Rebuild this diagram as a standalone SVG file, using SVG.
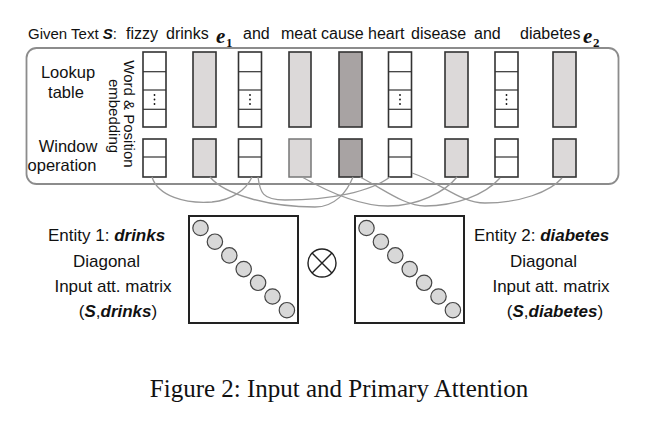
<svg xmlns="http://www.w3.org/2000/svg" width="666" height="433" viewBox="0 0 666 433">
<style>
text{font-family:"Liberation Sans",Arial,sans-serif;fill:#111}
.t15{font-size:15px}
.t155{font-size:16px}
.t16{font-size:16.5px}
.t17{font-size:17px}
.bi{font-weight:bold;font-style:italic}
.ev{font-family:"Liberation Serif","Times New Roman",serif;font-style:italic;font-weight:bold;font-size:21px}
.sub{font-family:"Liberation Serif","Times New Roman",serif;font-weight:bold;font-size:13px}
.frame{fill:none;stroke:#8c8c8c;stroke-width:1.8}
.b{stroke:#333;stroke-width:1.6}
.wh{fill:#fff}
.lg{fill:#dcd9d9}
.dg{fill:#a8a3a3}
.dv{stroke:#333;stroke-width:1.2}
.dot{fill:#111}
.con path{fill:none;stroke:#999;stroke-width:1.3}
.mx{fill:#fff;stroke:#222;stroke-width:2}
.cir{fill:#d8d8d8;stroke:#444;stroke-width:1.2}
.cap{font-family:"Liberation Serif","Times New Roman",serif;font-size:25px}
</style>
<defs>
<g id="split4">
<rect class="b wh" x="0" y="0" width="23" height="75"/>
<line class="dv" x1="0" y1="19.7" x2="23" y2="19.7"/>
<line class="dv" x1="0" y1="38" x2="23" y2="38"/>
<line class="dv" x1="0" y1="57.3" x2="23" y2="57.3"/>
<circle class="dot" cx="11.5" cy="43" r="0.9"/>
<circle class="dot" cx="11.5" cy="47.5" r="0.9"/>
<circle class="dot" cx="11.5" cy="52" r="0.9"/>
</g>
<g id="win2">
<rect class="b wh" x="0" y="0" width="23" height="38"/>
<line class="dv" x1="0" y1="18" x2="23" y2="18"/>
</g>
<g id="diag">
<circle class="cir" cx="11.5" cy="12" r="7.7"/>
<circle class="cir" cx="25.9" cy="25.7" r="7.7"/>
<circle class="cir" cx="40.3" cy="39.4" r="7.7"/>
<circle class="cir" cx="54.7" cy="53.1" r="7.7"/>
<circle class="cir" cx="69.1" cy="66.8" r="7.7"/>
<circle class="cir" cx="83.5" cy="80.5" r="7.7"/>
<circle class="cir" cx="97.9" cy="94.2" r="7.7"/>
</g>
</defs>

<g id="given-text">
<text class="t15" y="39"><tspan x="28">Given Text </tspan><tspan class="bi">S</tspan><tspan>:</tspan></text>
<text class="t155" y="39"><tspan x="126">fizzy</tspan><tspan x="166">drinks</tspan>
<tspan x="243">and</tspan><tspan x="281">meat</tspan><tspan x="321">cause</tspan><tspan x="368">heart</tspan>
<tspan x="411">disease</tspan><tspan x="474">and</tspan><tspan x="520">diabetes</tspan></text>
<text x="216" y="43" class="ev">e</text><text x="226" y="47" class="sub">1</text>
<text x="583" y="43" class="ev">e</text><text x="593" y="47" class="sub">2</text>
</g>

<g id="frame">
<rect class="frame" x="26.5" y="48" width="592" height="136" rx="10"/>
<text class="t16" text-anchor="middle"><tspan x="68" y="78">Lookup</tspan><tspan x="66" y="98">table</tspan></text>
<text class="t16" text-anchor="middle"><tspan x="68" y="152">Window</tspan><tspan x="62" y="171">operation</tspan></text>
<text class="t15" text-anchor="middle" transform="translate(124,114) rotate(90)">Word &amp; Position</text>
<text class="t15" text-anchor="middle" transform="translate(109,116) rotate(90)">embedding</text>
</g>

<g id="lookup">
<use href="#split4" x="143" y="52"/>
<rect class="b lg" x="193" y="52" width="23" height="75"/>
<use href="#split4" x="238.5" y="52"/>
<rect class="b lg" x="289" y="52" width="22" height="75"/>
<rect class="b dg" x="339" y="52" width="23" height="75"/>
<use href="#split4" x="388.5" y="52"/>
<rect class="b lg" x="445" y="52" width="23" height="75"/>
<use href="#split4" x="495" y="52"/>
<rect class="b lg" x="553" y="52" width="23" height="75"/>
</g>

<g id="window">
<use href="#win2" x="143" y="139"/>
<rect class="b lg" x="193" y="139" width="23" height="38"/>
<use href="#win2" x="238.5" y="139"/>
<rect class="lg" x="289" y="139" width="22" height="38" stroke="#777" stroke-width="1.5"/>
<rect class="b dg" x="339" y="139" width="23" height="38"/>
<use href="#win2" x="388.5" y="139"/>
<rect class="b lg" x="445" y="139" width="23" height="38"/>
<use href="#win2" x="495" y="139"/>
<rect class="b lg" x="553" y="139" width="23" height="38"/>
</g>

<g id="connectors" class="con">
<path d="M152,177 C158,196 185,204 212,202 C232,200 246,190 252,177"/>
<path d="M210,177 C225,195 270,207 315,207 C335,207 347,192 353,177"/>
<path d="M258,177 C260,192 262,200 285,200 C330,200 370,192 390,177"/>
<path d="M302,177 C330,193 360,206 388,206 C418,206 445,192 457,177"/>
<path d="M360,177 C385,190 405,206 425,206 C455,206 485,195 500,178"/>
<path d="M412,173 C440,182 460,203 485,203 C520,203 550,192 562,178"/>
</g>

<g id="entity1">
<text class="t17" x="48" y="241">Entity 1: <tspan class="bi">drinks</tspan></text>
<text class="t17" x="106.5" y="266.5" text-anchor="middle">Diagonal</text>
<text class="t17" x="113" y="292" text-anchor="middle">Input att. matrix</text>
<text class="t17" x="118" y="317" text-anchor="middle">(<tspan class="bi">S</tspan>,<tspan class="bi">drinks</tspan>)</text>
</g>

<g id="matrix1">
<rect class="mx" x="189" y="216" width="109" height="107"/>
<use href="#diag" x="189" y="216"/>
</g>

<g id="otimes">
<circle cx="322" cy="263" r="14" fill="none" stroke="#222" stroke-width="1.4"/>
<line x1="312.1" y1="253.1" x2="331.9" y2="272.9" stroke="#222" stroke-width="1.4"/>
<line x1="331.9" y1="253.1" x2="312.1" y2="272.9" stroke="#222" stroke-width="1.4"/>
</g>

<g id="matrix2">
<rect class="mx" x="355" y="216" width="109" height="107"/>
<use href="#diag" x="355" y="216"/>
</g>

<g id="entity2">
<text class="t17" x="474" y="241">Entity 2: <tspan class="bi">diabetes</tspan></text>
<text class="t17" x="543.5" y="266.5" text-anchor="middle">Diagonal</text>
<text class="t17" x="551" y="292" text-anchor="middle">Input att. matrix</text>
<text class="t17" x="555" y="317" text-anchor="middle">(<tspan class="bi">S</tspan>,<tspan class="bi">diabetes</tspan>)</text>
</g>

<g id="caption">
<text class="cap" x="339" y="397" text-anchor="middle">Figure 2: Input and Primary Attention</text>
</g>
</svg>
